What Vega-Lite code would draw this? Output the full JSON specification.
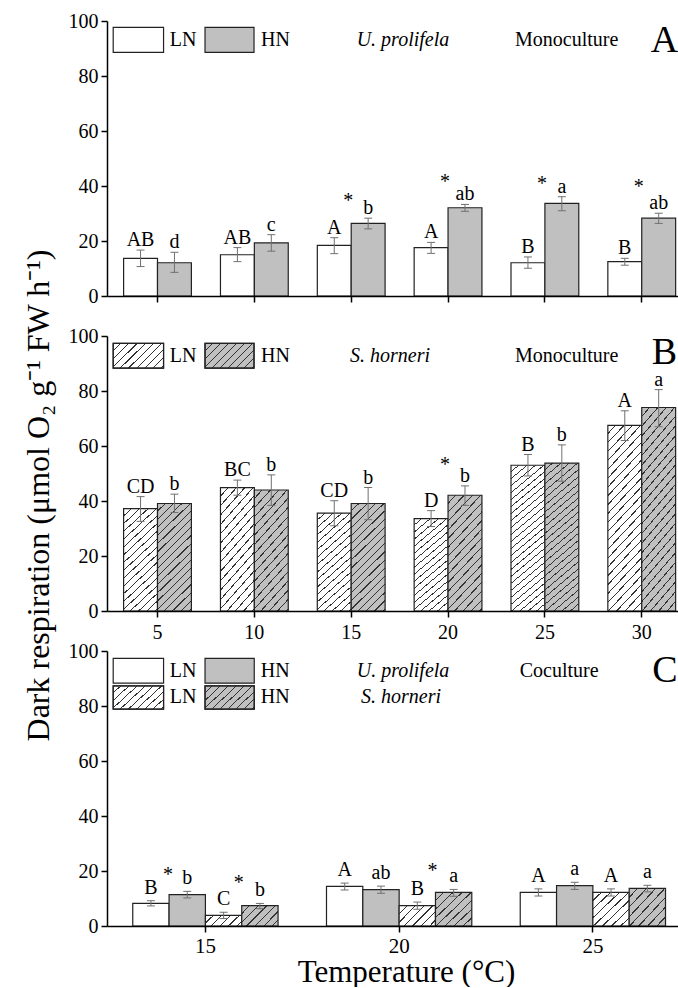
{
  "$schema": "https://vega.github.io/schema/vega-lite/v6.json",
  "padding": {"left": 21, "top": 11, "right": 0, "bottom": 0},
  "background": "white",
  "spacing": 40,
  "bounds": "flush",
  "datasets": {
    "A": [
      {"T": 5, "N": "LN", "v": 13.7, "lo": 10.7, "hi": 16.7, "lab": "AB"},
      {"T": 5, "N": "HN", "v": 12.1, "lo": 8.6, "hi": 15.9, "lab": "d"},
      {"T": 10, "N": "LN", "v": 15.0, "lo": 12.5, "hi": 17.6, "lab": "AB"},
      {"T": 10, "N": "HN", "v": 19.3, "lo": 16.3, "hi": 22.3, "lab": "c"},
      {"T": 15, "N": "LN", "v": 18.4, "lo": 15.4, "hi": 21.2, "lab": "A"},
      {"T": 15, "N": "HN", "v": 26.4, "lo": 24.4, "hi": 28.3, "lab": "b", "s": 32.5},
      {"T": 20, "N": "LN", "v": 17.6, "lo": 15.5, "hi": 19.5, "lab": "A"},
      {"T": 20, "N": "HN", "v": 32.1, "lo": 30.8, "hi": 33.3, "lab": "ab", "s": 39.1},
      {"T": 25, "N": "LN", "v": 12.1, "lo": 10.1, "hi": 14.2, "lab": "B"},
      {"T": 25, "N": "HN", "v": 33.7, "lo": 31.0, "hi": 36.1, "lab": "a", "s": 38.5},
      {"T": 30, "N": "LN", "v": 12.5, "lo": 11.2, "hi": 13.7, "lab": "B"},
      {"T": 30, "N": "HN", "v": 28.3, "lo": 26.4, "hi": 30.1, "lab": "ab", "s": 37.3}
    ],
    "B": [
      {"T": 5, "N": "LN", "v": 37.2, "lo": 32.6, "hi": 41.6, "lab": "CD"},
      {"T": 5, "N": "HN", "v": 39.1, "lo": 35.8, "hi": 42.5, "lab": "b"},
      {"T": 10, "N": "LN", "v": 44.9, "lo": 42.1, "hi": 47.6, "lab": "BC"},
      {"T": 10, "N": "HN", "v": 44.0, "lo": 38.4, "hi": 49.5, "lab": "b"},
      {"T": 15, "N": "LN", "v": 35.6, "lo": 31.0, "hi": 40.1, "lab": "CD"},
      {"T": 15, "N": "HN", "v": 39.1, "lo": 33.2, "hi": 44.9, "lab": "b"},
      {"T": 20, "N": "LN", "v": 33.6, "lo": 30.7, "hi": 36.5, "lab": "D"},
      {"T": 20, "N": "HN", "v": 42.1, "lo": 38.4, "hi": 45.5, "lab": "b", "s": 51.0},
      {"T": 25, "N": "LN", "v": 53.0, "lo": 49.1, "hi": 56.9, "lab": "B"},
      {"T": 25, "N": "HN", "v": 53.8, "lo": 47.2, "hi": 60.4, "lab": "b"},
      {"T": 30, "N": "LN", "v": 67.5, "lo": 62.0, "hi": 72.8, "lab": "A"},
      {"T": 30, "N": "HN", "v": 74.0, "lo": 67.0, "hi": 80.5, "lab": "a"}
    ],
    "C": [
      {"T": 15, "N": "LN", "sp": "U", "v": 8.2, "lo": 7.3, "hi": 9.2, "lab": "B"},
      {"T": 15, "N": "HN", "sp": "U", "v": 11.4, "lo": 10.2, "hi": 12.6, "lab": "b", "s": 16.3},
      {"T": 15, "N": "LN", "sp": "S", "v": 3.9, "lo": 2.7, "hi": 5.0, "lab": "C"},
      {"T": 15, "N": "HN", "sp": "S", "v": 7.4, "lo": 6.3, "hi": 8.2, "lab": "b", "s": 13.3},
      {"T": 20, "N": "LN", "sp": "U", "v": 14.4, "lo": 13.1, "hi": 15.6, "lab": "A"},
      {"T": 20, "N": "HN", "sp": "U", "v": 13.2, "lo": 11.9, "hi": 14.5, "lab": "ab"},
      {"T": 20, "N": "LN", "sp": "S", "v": 7.4, "lo": 6.1, "hi": 8.7, "lab": "B"},
      {"T": 20, "N": "HN", "sp": "S", "v": 12.2, "lo": 10.8, "hi": 13.3, "lab": "a", "s": 17.8},
      {"T": 25, "N": "LN", "sp": "U", "v": 12.2, "lo": 10.9, "hi": 13.5, "lab": "A"},
      {"T": 25, "N": "HN", "sp": "U", "v": 14.7, "lo": 13.3, "hi": 15.9, "lab": "a"},
      {"T": 25, "N": "LN", "sp": "S", "v": 12.2, "lo": 10.9, "hi": 13.5, "lab": "A"},
      {"T": 25, "N": "HN", "sp": "S", "v": 13.7, "lo": 12.4, "hi": 14.8, "lab": "a"}
    ],
    "annA": [
      {"k": "box", "N": "LN", "h": false, "x": 2.72, "x2": 5.32, "y": 97.7, "y2": 88.6},
      {"k": "box", "N": "HN", "h": false, "x": 7.46, "x2": 9.99, "y": 97.7, "y2": 88.6},
      {"k": "key", "t": "LN", "x": 5.64, "y": 93.0},
      {"k": "key", "t": "HN", "x": 10.35, "y": 93.0},
      {"k": "sp", "t": "U. prolifela", "x": 17.68, "y": 93.0},
      {"k": "cult", "t": "Monoculture", "x": 26.13, "y": 93.0},
      {"k": "panel", "t": "A", "x": 31.18, "y": 92.9}
    ],
    "annB": [
      {"k": "box", "N": "LN", "h": true, "x": 2.72, "x2": 5.32, "y": 97.3, "y2": 88.3},
      {"k": "box", "N": "HN", "h": true, "x": 7.46, "x2": 9.99, "y": 97.3, "y2": 88.3},
      {"k": "key", "t": "LN", "x": 5.64, "y": 92.8},
      {"k": "key", "t": "HN", "x": 10.35, "y": 92.8},
      {"k": "sp", "t": "S. horneri", "x": 17.01, "y": 92.8},
      {"k": "cult", "t": "Monoculture", "x": 26.13, "y": 92.8},
      {"k": "panel", "t": "B", "x": 31.18, "y": 93.8}
    ],
    "annC": [
      {"k": "box", "N": "LN", "h": false, "x": 12.62, "x2": 13.92, "y": 97.3, "y2": 88.3},
      {"k": "box", "N": "HN", "h": false, "x": 14.99, "x2": 16.26, "y": 97.3, "y2": 88.3},
      {"k": "box", "N": "LN", "h": true, "x": 12.62, "x2": 13.92, "y": 87.3, "y2": 78.9},
      {"k": "box", "N": "HN", "h": true, "x": 14.99, "x2": 16.26, "y": 87.3, "y2": 78.9},
      {"k": "key", "t": "LN", "x": 14.08, "y": 92.8},
      {"k": "key", "t": "HN", "x": 16.43, "y": 92.8},
      {"k": "key", "t": "LN", "x": 14.08, "y": 83.1},
      {"k": "key", "t": "HN", "x": 16.43, "y": 83.1},
      {"k": "sp", "t": "U. prolifela", "x": 20.10, "y": 92.8},
      {"k": "sp", "t": "S. horneri", "x": 20.05, "y": 83.1},
      {"k": "cult", "t": "Coculture", "x": 24.13, "y": 92.8},
      {"k": "panel", "t": "C", "x": 26.86, "y": 92.6}
    ]
  },
  "vconcat": [
    {
      "width": 575, "height": 275,
      "resolve": {"scale": {"x": "independent"}},
      "layer": [
        {
          "width": 575, "height": 275,
          "data": {"name": "A"},
          "layer": [
            {"transform": [{"filter": "datum.N === 'LN'"}],
             "mark": {"type": "rect", "fill": "#ffffff", "stroke": "#222", "strokeWidth": 1.2},
             "encoding": {
               "x": {"field": "T", "type": "ordinal", "bandPosition": 0, "scale": {"paddingInner": 0.3, "paddingOuter": 0.1186, "align": 0.723}, "axis": {"labels": false, "title": null, "tickSize": 6}},
               "x2": {"field": "T", "bandPosition": 0.5},
               "y": {"field": "v", "type": "quantitative", "scale": {"domain": [0, 100], "nice": false}, "axis": {"values": [0,10,20,30,40,50,60,70,80,90,100], "labelExpr": "datum.value % 20 === 0 ? datum.label : ''", "tickSize": 6, "labelPadding": 3, "title": null}},
               "y2": {"datum": 0}}},
            {"transform": [{"filter": "datum.N === 'HN'"}],
             "mark": {"type": "rect", "fill": "#c0c0c0", "stroke": "#222", "strokeWidth": 1.2},
             "encoding": {"x": {"field": "T", "type": "ordinal", "bandPosition": 1}, "x2": {"field": "T", "bandPosition": 0.5}, "y": {"field": "v", "type": "quantitative"}, "y2": {"datum": 0}}},
            {"transform": [{"filter": "datum.N === 'LN'"}], "layer": [
              {"mark": {"type": "rule", "color": "#707070", "strokeWidth": 1}, "encoding": {"x": {"field": "T", "type": "ordinal", "bandPosition": 0.25}, "y": {"field": "lo", "type": "quantitative"}, "y2": {"field": "hi"}}},
              {"mark": {"type": "rule", "color": "#707070", "strokeWidth": 1}, "encoding": {"x": {"field": "T", "type": "ordinal", "bandPosition": 0.191}, "x2": {"field": "T", "bandPosition": 0.309}, "y": {"field": "lo", "type": "quantitative"}}},
              {"mark": {"type": "rule", "color": "#707070", "strokeWidth": 1}, "encoding": {"x": {"field": "T", "type": "ordinal", "bandPosition": 0.191}, "x2": {"field": "T", "bandPosition": 0.309}, "y": {"field": "hi", "type": "quantitative"}}},
              {"mark": {"type": "text", "baseline": "alphabetic", "dy": -4, "fontSize": 20, "fill": "#000"}, "encoding": {"x": {"field": "T", "type": "ordinal", "bandPosition": 0.25}, "y": {"field": "hi", "type": "quantitative"}, "text": {"field": "lab"}}}
            ]},
            {"transform": [{"filter": "datum.N === 'HN'"}], "layer": [
              {"mark": {"type": "rule", "color": "#707070", "strokeWidth": 1}, "encoding": {"x": {"field": "T", "type": "ordinal", "bandPosition": 0.75}, "y": {"field": "lo", "type": "quantitative"}, "y2": {"field": "hi"}}},
              {"mark": {"type": "rule", "color": "#707070", "strokeWidth": 1}, "encoding": {"x": {"field": "T", "type": "ordinal", "bandPosition": 0.691}, "x2": {"field": "T", "bandPosition": 0.809}, "y": {"field": "lo", "type": "quantitative"}}},
              {"mark": {"type": "rule", "color": "#707070", "strokeWidth": 1}, "encoding": {"x": {"field": "T", "type": "ordinal", "bandPosition": 0.691}, "x2": {"field": "T", "bandPosition": 0.809}, "y": {"field": "hi", "type": "quantitative"}}},
              {"mark": {"type": "text", "baseline": "alphabetic", "dy": -4, "fontSize": 20, "fill": "#000"}, "encoding": {"x": {"field": "T", "type": "ordinal", "bandPosition": 0.75}, "y": {"field": "hi", "type": "quantitative"}, "text": {"field": "lab"}}},
              {"transform": [{"filter": "isValid(datum.s)"}], "mark": {"type": "text", "baseline": "alphabetic", "dx": -3, "fontSize": 20, "fill": "#000"}, "encoding": {"x": {"field": "T", "type": "ordinal", "bandPosition": 0.5}, "y": {"field": "s", "type": "quantitative"}, "text": {"value": "*"}}}
            ]}
          ]
        },
        {
          "width": 575, "height": 275,
          "data": {"name": "annA"},
          "encoding": {"x": {"field": "x", "type": "quantitative", "scale": {"domain": [2.4, 32.085], "nice": false, "zero": false}, "axis": null}},
          "layer": [
            {"transform": [{"filter": "datum.k === 'box'"}],
             "mark": {"type": "rect", "stroke": "#222", "strokeWidth": 1.2},
             "encoding": {"x2": {"field": "x2"}, "y": {"field": "y", "type": "quantitative"}, "y2": {"field": "y2"},
               "fill": {"field": "N", "type": "nominal", "scale": {"domain": ["LN", "HN"], "range": ["#ffffff", "#c0c0c0"]}, "legend": null}}},
            {"transform": [{"filter": "datum.k === 'key'"}],
             "mark": {"type": "text", "align": "left", "baseline": "middle", "fontSize": 20, "fill": "#000"},
             "encoding": {"y": {"field": "y", "type": "quantitative"}, "text": {"field": "t"}}},
            {"transform": [{"filter": "datum.k === 'sp'"}],
             "mark": {"type": "text", "align": "center", "baseline": "middle", "fontSize": 20, "fontStyle": "italic", "fill": "#000"},
             "encoding": {"y": {"field": "y", "type": "quantitative"}, "text": {"field": "t"}}},
            {"transform": [{"filter": "datum.k === 'cult'"}],
             "mark": {"type": "text", "align": "center", "baseline": "middle", "fontSize": 20, "fill": "#000"},
             "encoding": {"y": {"field": "y", "type": "quantitative"}, "text": {"field": "t"}}},
            {"transform": [{"filter": "datum.k === 'panel'"}],
             "mark": {"type": "text", "align": "center", "baseline": "middle", "fontSize": 38, "fill": "#000"},
             "encoding": {"y": {"field": "y", "type": "quantitative"}, "text": {"field": "t"}}}
          ]
        }
      ]
    },
    {
      "width": 575, "height": 275,
      "resolve": {"scale": {"x": "independent"}},
      "layer": [
        {
          "width": 575, "height": 275,
          "data": {"name": "B"},
          "layer": [
            {"transform": [{"filter": "datum.N === 'LN'"}],
             "mark": {"type": "rect", "stroke": "#222", "strokeWidth": 1.2},
             "encoding": {
               "x": {"field": "T", "type": "ordinal", "bandPosition": 0, "scale": {"paddingInner": 0.3, "paddingOuter": 0.1186, "align": 0.723}, "axis": {"title": null, "tickSize": 6, "labelPadding": 5, "labelAngle": 0}},
               "x2": {"field": "T", "bandPosition": 0.5},
               "y": {"field": "v", "type": "quantitative", "scale": {"domain": [0, 100], "nice": false}, "axis": {"values": [0,10,20,30,40,50,60,70,80,90,100], "labelExpr": "datum.value % 20 === 0 ? datum.label : ''", "tickSize": 6, "labelPadding": 3,
                 "title": "Dark respiration (μmol O₂ g⁻¹ FW h⁻¹)", "titleFontSize": 32, "titleX": -59, "titleY": 159, "titleAngle": 270, "titleBaseline": "alphabetic", "titleAlign": "center"}},
               "y2": {"datum": 0},
               "fill": {"condition": {"test": "datum.v > 50", "value": {"gradient": "linear", "x1": 0, "y1": 0, "x2": 0.233, "y2": 1.2, "stops": [
                 {"offset": 0, "color": "#fff"}, {"offset": 0.0327, "color": "#fff"}, {"offset": 0.0327, "color": "#333"}, {"offset": 0.0385, "color": "#333"},
                 {"offset": 0.0385, "color": "#fff"}, {"offset": 0.0712, "color": "#fff"}, {"offset": 0.0712, "color": "#333"}, {"offset": 0.0769, "color": "#333"},
                 {"offset": 0.0769, "color": "#fff"}, {"offset": 0.1096, "color": "#fff"}, {"offset": 0.1096, "color": "#333"}, {"offset": 0.1154, "color": "#333"},
                 {"offset": 0.1154, "color": "#fff"}, {"offset": 0.1481, "color": "#fff"}, {"offset": 0.1481, "color": "#333"}, {"offset": 0.1538, "color": "#333"},
                 {"offset": 0.1538, "color": "#fff"}, {"offset": 0.1865, "color": "#fff"}, {"offset": 0.1865, "color": "#333"}, {"offset": 0.1923, "color": "#333"},
                 {"offset": 0.1923, "color": "#fff"}, {"offset": 0.225, "color": "#fff"}, {"offset": 0.225, "color": "#333"}, {"offset": 0.2308, "color": "#333"},
                 {"offset": 0.2308, "color": "#fff"}, {"offset": 0.2635, "color": "#fff"}, {"offset": 0.2635, "color": "#333"}, {"offset": 0.2692, "color": "#333"},
                 {"offset": 0.2692, "color": "#fff"}, {"offset": 0.3019, "color": "#fff"}, {"offset": 0.3019, "color": "#333"}, {"offset": 0.3077, "color": "#333"},
                 {"offset": 0.3077, "color": "#fff"}, {"offset": 0.3404, "color": "#fff"}, {"offset": 0.3404, "color": "#333"}, {"offset": 0.3462, "color": "#333"},
                 {"offset": 0.3462, "color": "#fff"}, {"offset": 0.3788, "color": "#fff"}, {"offset": 0.3788, "color": "#333"}, {"offset": 0.3846, "color": "#333"},
                 {"offset": 0.3846, "color": "#fff"}, {"offset": 0.4173, "color": "#fff"}, {"offset": 0.4173, "color": "#333"}, {"offset": 0.4231, "color": "#333"},
                 {"offset": 0.4231, "color": "#fff"}, {"offset": 0.4558, "color": "#fff"}, {"offset": 0.4558, "color": "#333"}, {"offset": 0.4615, "color": "#333"},
                 {"offset": 0.4615, "color": "#fff"}, {"offset": 0.4942, "color": "#fff"}, {"offset": 0.4942, "color": "#333"}, {"offset": 0.5, "color": "#333"},
                 {"offset": 0.5, "color": "#fff"}, {"offset": 0.5327, "color": "#fff"}, {"offset": 0.5327, "color": "#333"}, {"offset": 0.5385, "color": "#333"},
                 {"offset": 0.5385, "color": "#fff"}, {"offset": 0.5712, "color": "#fff"}, {"offset": 0.5712, "color": "#333"}, {"offset": 0.5769, "color": "#333"},
                 {"offset": 0.5769, "color": "#fff"}, {"offset": 0.6096, "color": "#fff"}, {"offset": 0.6096, "color": "#333"}, {"offset": 0.6154, "color": "#333"},
                 {"offset": 0.6154, "color": "#fff"}, {"offset": 0.6481, "color": "#fff"}, {"offset": 0.6481, "color": "#333"}, {"offset": 0.6538, "color": "#333"},
                 {"offset": 0.6538, "color": "#fff"}, {"offset": 0.6865, "color": "#fff"}, {"offset": 0.6865, "color": "#333"}, {"offset": 0.6923, "color": "#333"},
                 {"offset": 0.6923, "color": "#fff"}, {"offset": 0.725, "color": "#fff"}, {"offset": 0.725, "color": "#333"}, {"offset": 0.7308, "color": "#333"},
                 {"offset": 0.7308, "color": "#fff"}, {"offset": 0.7635, "color": "#fff"}, {"offset": 0.7635, "color": "#333"}, {"offset": 0.7692, "color": "#333"},
                 {"offset": 0.7692, "color": "#fff"}, {"offset": 0.8019, "color": "#fff"}, {"offset": 0.8019, "color": "#333"}, {"offset": 0.8077, "color": "#333"},
                 {"offset": 0.8077, "color": "#fff"}, {"offset": 0.8404, "color": "#fff"}, {"offset": 0.8404, "color": "#333"}, {"offset": 0.8462, "color": "#333"},
                 {"offset": 0.8462, "color": "#fff"}, {"offset": 0.8788, "color": "#fff"}, {"offset": 0.8788, "color": "#333"}, {"offset": 0.8846, "color": "#333"},
                 {"offset": 0.8846, "color": "#fff"}, {"offset": 0.9173, "color": "#fff"}, {"offset": 0.9173, "color": "#333"}, {"offset": 0.9231, "color": "#333"},
                 {"offset": 0.9231, "color": "#fff"}, {"offset": 0.9558, "color": "#fff"}, {"offset": 0.9558, "color": "#333"}, {"offset": 0.9615, "color": "#333"},
                 {"offset": 0.9615, "color": "#fff"}, {"offset": 0.9942, "color": "#fff"}, {"offset": 0.9942, "color": "#333"}, {"offset": 1, "color": "#333"}
               ]}},
               "value": {"gradient": "linear", "x1": 0, "y1": 0, "x2": 0.386, "y2": 1.25, "stops": [
                 {"offset": 0, "color": "#fff"}, {"offset": 0.0472, "color": "#fff"}, {"offset": 0.0472, "color": "#333"}, {"offset": 0.0556, "color": "#333"},
                 {"offset": 0.0556, "color": "#fff"}, {"offset": 0.1028, "color": "#fff"}, {"offset": 0.1028, "color": "#333"}, {"offset": 0.1111, "color": "#333"},
                 {"offset": 0.1111, "color": "#fff"}, {"offset": 0.1583, "color": "#fff"}, {"offset": 0.1583, "color": "#333"}, {"offset": 0.1667, "color": "#333"},
                 {"offset": 0.1667, "color": "#fff"}, {"offset": 0.2139, "color": "#fff"}, {"offset": 0.2139, "color": "#333"}, {"offset": 0.2222, "color": "#333"},
                 {"offset": 0.2222, "color": "#fff"}, {"offset": 0.2694, "color": "#fff"}, {"offset": 0.2694, "color": "#333"}, {"offset": 0.2778, "color": "#333"},
                 {"offset": 0.2778, "color": "#fff"}, {"offset": 0.325, "color": "#fff"}, {"offset": 0.325, "color": "#333"}, {"offset": 0.3333, "color": "#333"},
                 {"offset": 0.3333, "color": "#fff"}, {"offset": 0.3806, "color": "#fff"}, {"offset": 0.3806, "color": "#333"}, {"offset": 0.3889, "color": "#333"},
                 {"offset": 0.3889, "color": "#fff"}, {"offset": 0.4361, "color": "#fff"}, {"offset": 0.4361, "color": "#333"}, {"offset": 0.4444, "color": "#333"},
                 {"offset": 0.4444, "color": "#fff"}, {"offset": 0.4917, "color": "#fff"}, {"offset": 0.4917, "color": "#333"}, {"offset": 0.5, "color": "#333"},
                 {"offset": 0.5, "color": "#fff"}, {"offset": 0.5472, "color": "#fff"}, {"offset": 0.5472, "color": "#333"}, {"offset": 0.5556, "color": "#333"},
                 {"offset": 0.5556, "color": "#fff"}, {"offset": 0.6028, "color": "#fff"}, {"offset": 0.6028, "color": "#333"}, {"offset": 0.6111, "color": "#333"},
                 {"offset": 0.6111, "color": "#fff"}, {"offset": 0.6583, "color": "#fff"}, {"offset": 0.6583, "color": "#333"}, {"offset": 0.6667, "color": "#333"},
                 {"offset": 0.6667, "color": "#fff"}, {"offset": 0.7139, "color": "#fff"}, {"offset": 0.7139, "color": "#333"}, {"offset": 0.7222, "color": "#333"},
                 {"offset": 0.7222, "color": "#fff"}, {"offset": 0.7694, "color": "#fff"}, {"offset": 0.7694, "color": "#333"}, {"offset": 0.7778, "color": "#333"},
                 {"offset": 0.7778, "color": "#fff"}, {"offset": 0.825, "color": "#fff"}, {"offset": 0.825, "color": "#333"}, {"offset": 0.8333, "color": "#333"},
                 {"offset": 0.8333, "color": "#fff"}, {"offset": 0.8806, "color": "#fff"}, {"offset": 0.8806, "color": "#333"}, {"offset": 0.8889, "color": "#333"},
                 {"offset": 0.8889, "color": "#fff"}, {"offset": 0.9361, "color": "#fff"}, {"offset": 0.9361, "color": "#333"}, {"offset": 0.9444, "color": "#333"},
                 {"offset": 0.9444, "color": "#fff"}, {"offset": 0.9917, "color": "#fff"}, {"offset": 0.9917, "color": "#333"}, {"offset": 1, "color": "#333"}
               ]}}}},
            {"transform": [{"filter": "datum.N === 'HN'"}],
             "mark": {"type": "rect", "stroke": "#222", "strokeWidth": 1.2},
             "encoding": {
               "x": {"field": "T", "type": "ordinal", "bandPosition": 1}, "x2": {"field": "T", "bandPosition": 0.5},
               "y": {"field": "v", "type": "quantitative"}, "y2": {"datum": 0},
               "fill": {"condition": {"test": "datum.v > 50", "value": {"gradient": "linear", "x1": 0, "y1": 0, "x2": 0.233, "y2": 1.2, "stops": [
                 {"offset": 0, "color": "#c0c0c0"}, {"offset": 0.0327, "color": "#c0c0c0"}, {"offset": 0.0327, "color": "#333"}, {"offset": 0.0385, "color": "#333"},
                 {"offset": 0.0385, "color": "#c0c0c0"}, {"offset": 0.0712, "color": "#c0c0c0"}, {"offset": 0.0712, "color": "#333"}, {"offset": 0.0769, "color": "#333"},
                 {"offset": 0.0769, "color": "#c0c0c0"}, {"offset": 0.1096, "color": "#c0c0c0"}, {"offset": 0.1096, "color": "#333"}, {"offset": 0.1154, "color": "#333"},
                 {"offset": 0.1154, "color": "#c0c0c0"}, {"offset": 0.1481, "color": "#c0c0c0"}, {"offset": 0.1481, "color": "#333"}, {"offset": 0.1538, "color": "#333"},
                 {"offset": 0.1538, "color": "#c0c0c0"}, {"offset": 0.1865, "color": "#c0c0c0"}, {"offset": 0.1865, "color": "#333"}, {"offset": 0.1923, "color": "#333"},
                 {"offset": 0.1923, "color": "#c0c0c0"}, {"offset": 0.225, "color": "#c0c0c0"}, {"offset": 0.225, "color": "#333"}, {"offset": 0.2308, "color": "#333"},
                 {"offset": 0.2308, "color": "#c0c0c0"}, {"offset": 0.2635, "color": "#c0c0c0"}, {"offset": 0.2635, "color": "#333"}, {"offset": 0.2692, "color": "#333"},
                 {"offset": 0.2692, "color": "#c0c0c0"}, {"offset": 0.3019, "color": "#c0c0c0"}, {"offset": 0.3019, "color": "#333"}, {"offset": 0.3077, "color": "#333"},
                 {"offset": 0.3077, "color": "#c0c0c0"}, {"offset": 0.3404, "color": "#c0c0c0"}, {"offset": 0.3404, "color": "#333"}, {"offset": 0.3462, "color": "#333"},
                 {"offset": 0.3462, "color": "#c0c0c0"}, {"offset": 0.3788, "color": "#c0c0c0"}, {"offset": 0.3788, "color": "#333"}, {"offset": 0.3846, "color": "#333"},
                 {"offset": 0.3846, "color": "#c0c0c0"}, {"offset": 0.4173, "color": "#c0c0c0"}, {"offset": 0.4173, "color": "#333"}, {"offset": 0.4231, "color": "#333"},
                 {"offset": 0.4231, "color": "#c0c0c0"}, {"offset": 0.4558, "color": "#c0c0c0"}, {"offset": 0.4558, "color": "#333"}, {"offset": 0.4615, "color": "#333"},
                 {"offset": 0.4615, "color": "#c0c0c0"}, {"offset": 0.4942, "color": "#c0c0c0"}, {"offset": 0.4942, "color": "#333"}, {"offset": 0.5, "color": "#333"},
                 {"offset": 0.5, "color": "#c0c0c0"}, {"offset": 0.5327, "color": "#c0c0c0"}, {"offset": 0.5327, "color": "#333"}, {"offset": 0.5385, "color": "#333"},
                 {"offset": 0.5385, "color": "#c0c0c0"}, {"offset": 0.5712, "color": "#c0c0c0"}, {"offset": 0.5712, "color": "#333"}, {"offset": 0.5769, "color": "#333"},
                 {"offset": 0.5769, "color": "#c0c0c0"}, {"offset": 0.6096, "color": "#c0c0c0"}, {"offset": 0.6096, "color": "#333"}, {"offset": 0.6154, "color": "#333"},
                 {"offset": 0.6154, "color": "#c0c0c0"}, {"offset": 0.6481, "color": "#c0c0c0"}, {"offset": 0.6481, "color": "#333"}, {"offset": 0.6538, "color": "#333"},
                 {"offset": 0.6538, "color": "#c0c0c0"}, {"offset": 0.6865, "color": "#c0c0c0"}, {"offset": 0.6865, "color": "#333"}, {"offset": 0.6923, "color": "#333"},
                 {"offset": 0.6923, "color": "#c0c0c0"}, {"offset": 0.725, "color": "#c0c0c0"}, {"offset": 0.725, "color": "#333"}, {"offset": 0.7308, "color": "#333"},
                 {"offset": 0.7308, "color": "#c0c0c0"}, {"offset": 0.7635, "color": "#c0c0c0"}, {"offset": 0.7635, "color": "#333"}, {"offset": 0.7692, "color": "#333"},
                 {"offset": 0.7692, "color": "#c0c0c0"}, {"offset": 0.8019, "color": "#c0c0c0"}, {"offset": 0.8019, "color": "#333"}, {"offset": 0.8077, "color": "#333"},
                 {"offset": 0.8077, "color": "#c0c0c0"}, {"offset": 0.8404, "color": "#c0c0c0"}, {"offset": 0.8404, "color": "#333"}, {"offset": 0.8462, "color": "#333"},
                 {"offset": 0.8462, "color": "#c0c0c0"}, {"offset": 0.8788, "color": "#c0c0c0"}, {"offset": 0.8788, "color": "#333"}, {"offset": 0.8846, "color": "#333"},
                 {"offset": 0.8846, "color": "#c0c0c0"}, {"offset": 0.9173, "color": "#c0c0c0"}, {"offset": 0.9173, "color": "#333"}, {"offset": 0.9231, "color": "#333"},
                 {"offset": 0.9231, "color": "#c0c0c0"}, {"offset": 0.9558, "color": "#c0c0c0"}, {"offset": 0.9558, "color": "#333"}, {"offset": 0.9615, "color": "#333"},
                 {"offset": 0.9615, "color": "#c0c0c0"}, {"offset": 0.9942, "color": "#c0c0c0"}, {"offset": 0.9942, "color": "#333"}, {"offset": 1, "color": "#333"}
               ]}},
               "value": {"gradient": "linear", "x1": 0, "y1": 0, "x2": 0.386, "y2": 1.25, "stops": [
                 {"offset": 0, "color": "#c0c0c0"}, {"offset": 0.0472, "color": "#c0c0c0"}, {"offset": 0.0472, "color": "#333"}, {"offset": 0.0556, "color": "#333"},
                 {"offset": 0.0556, "color": "#c0c0c0"}, {"offset": 0.1028, "color": "#c0c0c0"}, {"offset": 0.1028, "color": "#333"}, {"offset": 0.1111, "color": "#333"},
                 {"offset": 0.1111, "color": "#c0c0c0"}, {"offset": 0.1583, "color": "#c0c0c0"}, {"offset": 0.1583, "color": "#333"}, {"offset": 0.1667, "color": "#333"},
                 {"offset": 0.1667, "color": "#c0c0c0"}, {"offset": 0.2139, "color": "#c0c0c0"}, {"offset": 0.2139, "color": "#333"}, {"offset": 0.2222, "color": "#333"},
                 {"offset": 0.2222, "color": "#c0c0c0"}, {"offset": 0.2694, "color": "#c0c0c0"}, {"offset": 0.2694, "color": "#333"}, {"offset": 0.2778, "color": "#333"},
                 {"offset": 0.2778, "color": "#c0c0c0"}, {"offset": 0.325, "color": "#c0c0c0"}, {"offset": 0.325, "color": "#333"}, {"offset": 0.3333, "color": "#333"},
                 {"offset": 0.3333, "color": "#c0c0c0"}, {"offset": 0.3806, "color": "#c0c0c0"}, {"offset": 0.3806, "color": "#333"}, {"offset": 0.3889, "color": "#333"},
                 {"offset": 0.3889, "color": "#c0c0c0"}, {"offset": 0.4361, "color": "#c0c0c0"}, {"offset": 0.4361, "color": "#333"}, {"offset": 0.4444, "color": "#333"},
                 {"offset": 0.4444, "color": "#c0c0c0"}, {"offset": 0.4917, "color": "#c0c0c0"}, {"offset": 0.4917, "color": "#333"}, {"offset": 0.5, "color": "#333"},
                 {"offset": 0.5, "color": "#c0c0c0"}, {"offset": 0.5472, "color": "#c0c0c0"}, {"offset": 0.5472, "color": "#333"}, {"offset": 0.5556, "color": "#333"},
                 {"offset": 0.5556, "color": "#c0c0c0"}, {"offset": 0.6028, "color": "#c0c0c0"}, {"offset": 0.6028, "color": "#333"}, {"offset": 0.6111, "color": "#333"},
                 {"offset": 0.6111, "color": "#c0c0c0"}, {"offset": 0.6583, "color": "#c0c0c0"}, {"offset": 0.6583, "color": "#333"}, {"offset": 0.6667, "color": "#333"},
                 {"offset": 0.6667, "color": "#c0c0c0"}, {"offset": 0.7139, "color": "#c0c0c0"}, {"offset": 0.7139, "color": "#333"}, {"offset": 0.7222, "color": "#333"},
                 {"offset": 0.7222, "color": "#c0c0c0"}, {"offset": 0.7694, "color": "#c0c0c0"}, {"offset": 0.7694, "color": "#333"}, {"offset": 0.7778, "color": "#333"},
                 {"offset": 0.7778, "color": "#c0c0c0"}, {"offset": 0.825, "color": "#c0c0c0"}, {"offset": 0.825, "color": "#333"}, {"offset": 0.8333, "color": "#333"},
                 {"offset": 0.8333, "color": "#c0c0c0"}, {"offset": 0.8806, "color": "#c0c0c0"}, {"offset": 0.8806, "color": "#333"}, {"offset": 0.8889, "color": "#333"},
                 {"offset": 0.8889, "color": "#c0c0c0"}, {"offset": 0.9361, "color": "#c0c0c0"}, {"offset": 0.9361, "color": "#333"}, {"offset": 0.9444, "color": "#333"},
                 {"offset": 0.9444, "color": "#c0c0c0"}, {"offset": 0.9917, "color": "#c0c0c0"}, {"offset": 0.9917, "color": "#333"}, {"offset": 1, "color": "#333"}
               ]}}}},
            {"transform": [{"filter": "datum.N === 'LN'"}], "layer": [
              {"mark": {"type": "rule", "color": "#707070", "strokeWidth": 1}, "encoding": {"x": {"field": "T", "type": "ordinal", "bandPosition": 0.25}, "y": {"field": "lo", "type": "quantitative"}, "y2": {"field": "hi"}}},
              {"mark": {"type": "rule", "color": "#707070", "strokeWidth": 1}, "encoding": {"x": {"field": "T", "type": "ordinal", "bandPosition": 0.191}, "x2": {"field": "T", "bandPosition": 0.309}, "y": {"field": "lo", "type": "quantitative"}}},
              {"mark": {"type": "rule", "color": "#707070", "strokeWidth": 1}, "encoding": {"x": {"field": "T", "type": "ordinal", "bandPosition": 0.191}, "x2": {"field": "T", "bandPosition": 0.309}, "y": {"field": "hi", "type": "quantitative"}}},
              {"mark": {"type": "text", "baseline": "alphabetic", "dy": -4, "fontSize": 20, "fill": "#000"}, "encoding": {"x": {"field": "T", "type": "ordinal", "bandPosition": 0.25}, "y": {"field": "hi", "type": "quantitative"}, "text": {"field": "lab"}}}
            ]},
            {"transform": [{"filter": "datum.N === 'HN'"}], "layer": [
              {"mark": {"type": "rule", "color": "#707070", "strokeWidth": 1}, "encoding": {"x": {"field": "T", "type": "ordinal", "bandPosition": 0.75}, "y": {"field": "lo", "type": "quantitative"}, "y2": {"field": "hi"}}},
              {"mark": {"type": "rule", "color": "#707070", "strokeWidth": 1}, "encoding": {"x": {"field": "T", "type": "ordinal", "bandPosition": 0.691}, "x2": {"field": "T", "bandPosition": 0.809}, "y": {"field": "lo", "type": "quantitative"}}},
              {"mark": {"type": "rule", "color": "#707070", "strokeWidth": 1}, "encoding": {"x": {"field": "T", "type": "ordinal", "bandPosition": 0.691}, "x2": {"field": "T", "bandPosition": 0.809}, "y": {"field": "hi", "type": "quantitative"}}},
              {"mark": {"type": "text", "baseline": "alphabetic", "dy": -4, "fontSize": 20, "fill": "#000"}, "encoding": {"x": {"field": "T", "type": "ordinal", "bandPosition": 0.75}, "y": {"field": "hi", "type": "quantitative"}, "text": {"field": "lab"}}},
              {"transform": [{"filter": "isValid(datum.s)"}], "mark": {"type": "text", "baseline": "alphabetic", "dx": -3, "fontSize": 20, "fill": "#000"}, "encoding": {"x": {"field": "T", "type": "ordinal", "bandPosition": 0.5}, "y": {"field": "s", "type": "quantitative"}, "text": {"value": "*"}}}
            ]}
          ]
        },
        {
          "width": 575, "height": 275,
          "data": {"name": "annB"},
          "encoding": {"x": {"field": "x", "type": "quantitative", "scale": {"domain": [2.4, 32.085], "nice": false, "zero": false}, "axis": null}},
          "layer": [
            {"transform": [{"filter": "datum.k === 'box'"}],
             "mark": {"type": "rect", "stroke": "#222", "strokeWidth": 1.2},
             "encoding": {"x2": {"field": "x2"}, "y": {"field": "y", "type": "quantitative"}, "y2": {"field": "y2"},
               "fill": {"field": "N", "type": "nominal", "scale": {"domain": ["LN", "HN"], "range": ["#ffffff", "#c0c0c0"]}, "legend": null}}},
            {"transform": [{"filter": "datum.k === 'box' && datum.h"}],
             "mark": {"type": "rect", "stroke": "#222", "strokeWidth": 1.2, "fill": {"gradient": "linear", "x1": 0, "y1": 0, "x2": 1.3, "y2": 0.65, "stops": [
               {"offset": 0, "color": "transparent"}, {"offset": 0.085, "color": "transparent"}, {"offset": 0.085, "color": "#333"}, {"offset": 0.1, "color": "#333"},
               {"offset": 0.1, "color": "transparent"}, {"offset": 0.185, "color": "transparent"}, {"offset": 0.185, "color": "#333"}, {"offset": 0.2, "color": "#333"},
               {"offset": 0.2, "color": "transparent"}, {"offset": 0.285, "color": "transparent"}, {"offset": 0.285, "color": "#333"}, {"offset": 0.3, "color": "#333"},
               {"offset": 0.3, "color": "transparent"}, {"offset": 0.385, "color": "transparent"}, {"offset": 0.385, "color": "#333"}, {"offset": 0.4, "color": "#333"},
               {"offset": 0.4, "color": "transparent"}, {"offset": 0.485, "color": "transparent"}, {"offset": 0.485, "color": "#333"}, {"offset": 0.5, "color": "#333"},
               {"offset": 0.5, "color": "transparent"}, {"offset": 0.585, "color": "transparent"}, {"offset": 0.585, "color": "#333"}, {"offset": 0.6, "color": "#333"},
               {"offset": 0.6, "color": "transparent"}, {"offset": 0.685, "color": "transparent"}, {"offset": 0.685, "color": "#333"}, {"offset": 0.7, "color": "#333"},
               {"offset": 0.7, "color": "transparent"}, {"offset": 0.785, "color": "transparent"}, {"offset": 0.785, "color": "#333"}, {"offset": 0.8, "color": "#333"},
               {"offset": 0.8, "color": "transparent"}, {"offset": 0.885, "color": "transparent"}, {"offset": 0.885, "color": "#333"}, {"offset": 0.9, "color": "#333"},
               {"offset": 0.9, "color": "transparent"}, {"offset": 0.985, "color": "transparent"}, {"offset": 0.985, "color": "#333"}, {"offset": 1, "color": "#333"}
             ]}},
             "encoding": {"x2": {"field": "x2"}, "y": {"field": "y", "type": "quantitative"}, "y2": {"field": "y2"}}},
            {"transform": [{"filter": "datum.k === 'key'"}],
             "mark": {"type": "text", "align": "left", "baseline": "middle", "fontSize": 20, "fill": "#000"},
             "encoding": {"y": {"field": "y", "type": "quantitative"}, "text": {"field": "t"}}},
            {"transform": [{"filter": "datum.k === 'sp'"}],
             "mark": {"type": "text", "align": "center", "baseline": "middle", "fontSize": 20, "fontStyle": "italic", "fill": "#000"},
             "encoding": {"y": {"field": "y", "type": "quantitative"}, "text": {"field": "t"}}},
            {"transform": [{"filter": "datum.k === 'cult'"}],
             "mark": {"type": "text", "align": "center", "baseline": "middle", "fontSize": 20, "fill": "#000"},
             "encoding": {"y": {"field": "y", "type": "quantitative"}, "text": {"field": "t"}}},
            {"transform": [{"filter": "datum.k === 'panel'"}],
             "mark": {"type": "text", "align": "center", "baseline": "middle", "fontSize": 38, "fill": "#000"},
             "encoding": {"y": {"field": "y", "type": "quantitative"}, "text": {"field": "t"}}}
          ]
        }
      ]
    },
    {
      "width": 575, "height": 275,
      "resolve": {"scale": {"x": "independent"}},
      "layer": [
        {
          "width": 575, "height": 275,
          "data": {"name": "C"},
          "layer": [
            {"transform": [{"filter": "datum.sp === 'U' && datum.N === 'LN'"}],
             "mark": {"type": "rect", "fill": "#ffffff", "stroke": "#222", "strokeWidth": 1.2},
             "encoding": {
               "x": {"field": "T", "type": "ordinal", "bandPosition": 0, "scale": {"paddingInner": 0.25, "paddingOuter": 0.109, "align": 0.61}, "axis": {"tickSize": 6, "labelPadding": 3, "labelAngle": 0, "labelFontSize": 21,
                 "title": "Temperature (°C)", "titleFontSize": 31, "titleX": 299, "titleY": 55, "titleBaseline": "alphabetic", "titleAlign": "center", "titleAnchor": null}},
               "x2": {"field": "T", "bandPosition": 0.25},
               "y": {"field": "v", "type": "quantitative", "scale": {"domain": [0, 100], "nice": false}, "axis": {"values": [0,10,20,30,40,50,60,70,80,90,100], "labelExpr": "datum.value % 20 === 0 ? datum.label : ''", "tickSize": 6, "labelPadding": 3, "title": null}},
               "y2": {"datum": 0}}},
            {"transform": [{"filter": "datum.sp === 'U' && datum.N === 'HN'"}],
             "mark": {"type": "rect", "fill": "#c0c0c0", "stroke": "#222", "strokeWidth": 1.2},
             "encoding": {"x": {"field": "T", "type": "ordinal", "bandPosition": 0.25}, "x2": {"field": "T", "bandPosition": 0.5}, "y": {"field": "v", "type": "quantitative"}, "y2": {"datum": 0}}},
            {"transform": [{"filter": "datum.sp === 'S' && datum.N === 'LN'"}],
             "mark": {"type": "rect", "stroke": "#222", "strokeWidth": 1.2},
             "encoding": {"x": {"field": "T", "type": "ordinal", "bandPosition": 0.5}, "x2": {"field": "T", "bandPosition": 0.75}, "y": {"field": "v", "type": "quantitative"}, "y2": {"datum": 0},
               "fill": {"condition": [
                 {"test": "datum.v < 5", "value": {"gradient": "linear", "x1": 0, "y1": 0, "x2": 1.309, "y2": 0.4, "stops": [
                   {"offset": 0, "color": "#fff"}, {"offset": 0.1417, "color": "#fff"}, {"offset": 0.1417, "color": "#333"}, {"offset": 0.1667, "color": "#333"},
                   {"offset": 0.1667, "color": "#fff"}, {"offset": 0.3083, "color": "#fff"}, {"offset": 0.3083, "color": "#333"}, {"offset": 0.3333, "color": "#333"},
                   {"offset": 0.3333, "color": "#fff"}, {"offset": 0.475, "color": "#fff"}, {"offset": 0.475, "color": "#333"}, {"offset": 0.5, "color": "#333"},
                   {"offset": 0.5, "color": "#fff"}, {"offset": 0.6417, "color": "#fff"}, {"offset": 0.6417, "color": "#333"}, {"offset": 0.6667, "color": "#333"},
                   {"offset": 0.6667, "color": "#fff"}, {"offset": 0.8083, "color": "#fff"}, {"offset": 0.8083, "color": "#333"}, {"offset": 0.8333, "color": "#333"},
                   {"offset": 0.8333, "color": "#fff"}, {"offset": 0.975, "color": "#fff"}, {"offset": 0.975, "color": "#333"}, {"offset": 1, "color": "#333"}
                 ]}},
                 {"test": "datum.v < 10", "value": {"gradient": "linear", "x1": 0, "y1": 0, "x2": 1.26, "y2": 0.7, "stops": [
                   {"offset": 0, "color": "#fff"}, {"offset": 0.1214, "color": "#fff"}, {"offset": 0.1214, "color": "#333"}, {"offset": 0.1429, "color": "#333"},
                   {"offset": 0.1429, "color": "#fff"}, {"offset": 0.2643, "color": "#fff"}, {"offset": 0.2643, "color": "#333"}, {"offset": 0.2857, "color": "#333"},
                   {"offset": 0.2857, "color": "#fff"}, {"offset": 0.4071, "color": "#fff"}, {"offset": 0.4071, "color": "#333"}, {"offset": 0.4286, "color": "#333"},
                   {"offset": 0.4286, "color": "#fff"}, {"offset": 0.55, "color": "#fff"}, {"offset": 0.55, "color": "#333"}, {"offset": 0.5714, "color": "#333"},
                   {"offset": 0.5714, "color": "#fff"}, {"offset": 0.6929, "color": "#fff"}, {"offset": 0.6929, "color": "#333"}, {"offset": 0.7143, "color": "#333"},
                   {"offset": 0.7143, "color": "#fff"}, {"offset": 0.8357, "color": "#fff"}, {"offset": 0.8357, "color": "#333"}, {"offset": 0.8571, "color": "#333"},
                   {"offset": 0.8571, "color": "#fff"}, {"offset": 0.9786, "color": "#fff"}, {"offset": 0.9786, "color": "#333"}, {"offset": 1, "color": "#333"}
                 ]}}
               ],
               "value": {"gradient": "linear", "x1": 0, "y1": 0, "x2": 1.03, "y2": 1.0, "stops": [
                 {"offset": 0, "color": "#fff"}, {"offset": 0.1063, "color": "#fff"}, {"offset": 0.1063, "color": "#333"}, {"offset": 0.125, "color": "#333"},
                 {"offset": 0.125, "color": "#fff"}, {"offset": 0.2313, "color": "#fff"}, {"offset": 0.2313, "color": "#333"}, {"offset": 0.25, "color": "#333"},
                 {"offset": 0.25, "color": "#fff"}, {"offset": 0.3563, "color": "#fff"}, {"offset": 0.3563, "color": "#333"}, {"offset": 0.375, "color": "#333"},
                 {"offset": 0.375, "color": "#fff"}, {"offset": 0.4813, "color": "#fff"}, {"offset": 0.4813, "color": "#333"}, {"offset": 0.5, "color": "#333"},
                 {"offset": 0.5, "color": "#fff"}, {"offset": 0.6063, "color": "#fff"}, {"offset": 0.6063, "color": "#333"}, {"offset": 0.625, "color": "#333"},
                 {"offset": 0.625, "color": "#fff"}, {"offset": 0.7313, "color": "#fff"}, {"offset": 0.7313, "color": "#333"}, {"offset": 0.75, "color": "#333"},
                 {"offset": 0.75, "color": "#fff"}, {"offset": 0.8563, "color": "#fff"}, {"offset": 0.8563, "color": "#333"}, {"offset": 0.875, "color": "#333"},
                 {"offset": 0.875, "color": "#fff"}, {"offset": 0.9813, "color": "#fff"}, {"offset": 0.9813, "color": "#333"}, {"offset": 1, "color": "#333"}
               ]}}}},
            {"transform": [{"filter": "datum.sp === 'S' && datum.N === 'HN'"}],
             "mark": {"type": "rect", "stroke": "#222", "strokeWidth": 1.2},
             "encoding": {"x": {"field": "T", "type": "ordinal", "bandPosition": 1}, "x2": {"field": "T", "bandPosition": 0.75}, "y": {"field": "v", "type": "quantitative"}, "y2": {"datum": 0},
               "fill": {"condition": {"test": "datum.v < 10", "value": {"gradient": "linear", "x1": 0, "y1": 0, "x2": 1.26, "y2": 0.7, "stops": [
                   {"offset": 0, "color": "#c0c0c0"}, {"offset": 0.1214, "color": "#c0c0c0"}, {"offset": 0.1214, "color": "#333"}, {"offset": 0.1429, "color": "#333"},
                   {"offset": 0.1429, "color": "#c0c0c0"}, {"offset": 0.2643, "color": "#c0c0c0"}, {"offset": 0.2643, "color": "#333"}, {"offset": 0.2857, "color": "#333"},
                   {"offset": 0.2857, "color": "#c0c0c0"}, {"offset": 0.4071, "color": "#c0c0c0"}, {"offset": 0.4071, "color": "#333"}, {"offset": 0.4286, "color": "#333"},
                   {"offset": 0.4286, "color": "#c0c0c0"}, {"offset": 0.55, "color": "#c0c0c0"}, {"offset": 0.55, "color": "#333"}, {"offset": 0.5714, "color": "#333"},
                   {"offset": 0.5714, "color": "#c0c0c0"}, {"offset": 0.6929, "color": "#c0c0c0"}, {"offset": 0.6929, "color": "#333"}, {"offset": 0.7143, "color": "#333"},
                   {"offset": 0.7143, "color": "#c0c0c0"}, {"offset": 0.8357, "color": "#c0c0c0"}, {"offset": 0.8357, "color": "#333"}, {"offset": 0.8571, "color": "#333"},
                   {"offset": 0.8571, "color": "#c0c0c0"}, {"offset": 0.9786, "color": "#c0c0c0"}, {"offset": 0.9786, "color": "#333"}, {"offset": 1, "color": "#333"}
                 ]}},
               "value": {"gradient": "linear", "x1": 0, "y1": 0, "x2": 1.03, "y2": 1.0, "stops": [
                 {"offset": 0, "color": "#c0c0c0"}, {"offset": 0.1063, "color": "#c0c0c0"}, {"offset": 0.1063, "color": "#333"}, {"offset": 0.125, "color": "#333"},
                 {"offset": 0.125, "color": "#c0c0c0"}, {"offset": 0.2313, "color": "#c0c0c0"}, {"offset": 0.2313, "color": "#333"}, {"offset": 0.25, "color": "#333"},
                 {"offset": 0.25, "color": "#c0c0c0"}, {"offset": 0.3563, "color": "#c0c0c0"}, {"offset": 0.3563, "color": "#333"}, {"offset": 0.375, "color": "#333"},
                 {"offset": 0.375, "color": "#c0c0c0"}, {"offset": 0.4813, "color": "#c0c0c0"}, {"offset": 0.4813, "color": "#333"}, {"offset": 0.5, "color": "#333"},
                 {"offset": 0.5, "color": "#c0c0c0"}, {"offset": 0.6063, "color": "#c0c0c0"}, {"offset": 0.6063, "color": "#333"}, {"offset": 0.625, "color": "#333"},
                 {"offset": 0.625, "color": "#c0c0c0"}, {"offset": 0.7313, "color": "#c0c0c0"}, {"offset": 0.7313, "color": "#333"}, {"offset": 0.75, "color": "#333"},
                 {"offset": 0.75, "color": "#c0c0c0"}, {"offset": 0.8563, "color": "#c0c0c0"}, {"offset": 0.8563, "color": "#333"}, {"offset": 0.875, "color": "#333"},
                 {"offset": 0.875, "color": "#c0c0c0"}, {"offset": 0.9813, "color": "#c0c0c0"}, {"offset": 0.9813, "color": "#333"}, {"offset": 1, "color": "#333"}
               ]}}}},
            {"transform": [{"filter": "datum.sp === 'U' && datum.N === 'LN'"}], "layer": [
              {"mark": {"type": "rule", "color": "#707070", "strokeWidth": 1}, "encoding": {"x": {"field": "T", "type": "ordinal", "bandPosition": 0.125}, "y": {"field": "lo", "type": "quantitative"}, "y2": {"field": "hi"}}},
              {"mark": {"type": "rule", "color": "#707070", "strokeWidth": 1}, "encoding": {"x": {"field": "T", "type": "ordinal", "bandPosition": 0.0975}, "x2": {"field": "T", "bandPosition": 0.1525}, "y": {"field": "lo", "type": "quantitative"}}},
              {"mark": {"type": "rule", "color": "#707070", "strokeWidth": 1}, "encoding": {"x": {"field": "T", "type": "ordinal", "bandPosition": 0.0975}, "x2": {"field": "T", "bandPosition": 0.1525}, "y": {"field": "hi", "type": "quantitative"}}},
              {"mark": {"type": "text", "baseline": "alphabetic", "dy": -7, "fontSize": 20, "fill": "#000"}, "encoding": {"x": {"field": "T", "type": "ordinal", "bandPosition": 0.125}, "y": {"field": "hi", "type": "quantitative"}, "text": {"field": "lab"}}}
            ]},
            {"transform": [{"filter": "datum.sp === 'U' && datum.N === 'HN'"}], "layer": [
              {"mark": {"type": "rule", "color": "#707070", "strokeWidth": 1}, "encoding": {"x": {"field": "T", "type": "ordinal", "bandPosition": 0.375}, "y": {"field": "lo", "type": "quantitative"}, "y2": {"field": "hi"}}},
              {"mark": {"type": "rule", "color": "#707070", "strokeWidth": 1}, "encoding": {"x": {"field": "T", "type": "ordinal", "bandPosition": 0.3475}, "x2": {"field": "T", "bandPosition": 0.4025}, "y": {"field": "lo", "type": "quantitative"}}},
              {"mark": {"type": "rule", "color": "#707070", "strokeWidth": 1}, "encoding": {"x": {"field": "T", "type": "ordinal", "bandPosition": 0.3475}, "x2": {"field": "T", "bandPosition": 0.4025}, "y": {"field": "hi", "type": "quantitative"}}},
              {"mark": {"type": "text", "baseline": "alphabetic", "dy": -7, "fontSize": 20, "fill": "#000"}, "encoding": {"x": {"field": "T", "type": "ordinal", "bandPosition": 0.375}, "y": {"field": "hi", "type": "quantitative"}, "text": {"field": "lab"}}},
              {"transform": [{"filter": "isValid(datum.s)"}], "mark": {"type": "text", "baseline": "alphabetic", "dx": -1, "fontSize": 20, "fill": "#000"}, "encoding": {"x": {"field": "T", "type": "ordinal", "bandPosition": 0.25}, "y": {"field": "s", "type": "quantitative"}, "text": {"value": "*"}}}
            ]},
            {"transform": [{"filter": "datum.sp === 'S' && datum.N === 'LN'"}], "layer": [
              {"mark": {"type": "rule", "color": "#707070", "strokeWidth": 1}, "encoding": {"x": {"field": "T", "type": "ordinal", "bandPosition": 0.625}, "y": {"field": "lo", "type": "quantitative"}, "y2": {"field": "hi"}}},
              {"mark": {"type": "rule", "color": "#707070", "strokeWidth": 1}, "encoding": {"x": {"field": "T", "type": "ordinal", "bandPosition": 0.5975}, "x2": {"field": "T", "bandPosition": 0.6525}, "y": {"field": "lo", "type": "quantitative"}}},
              {"mark": {"type": "rule", "color": "#707070", "strokeWidth": 1}, "encoding": {"x": {"field": "T", "type": "ordinal", "bandPosition": 0.5975}, "x2": {"field": "T", "bandPosition": 0.6525}, "y": {"field": "hi", "type": "quantitative"}}},
              {"mark": {"type": "text", "baseline": "alphabetic", "dy": -7, "fontSize": 20, "fill": "#000"}, "encoding": {"x": {"field": "T", "type": "ordinal", "bandPosition": 0.625}, "y": {"field": "hi", "type": "quantitative"}, "text": {"field": "lab"}}}
            ]},
            {"transform": [{"filter": "datum.sp === 'S' && datum.N === 'HN'"}], "layer": [
              {"mark": {"type": "rule", "color": "#707070", "strokeWidth": 1}, "encoding": {"x": {"field": "T", "type": "ordinal", "bandPosition": 0.875}, "y": {"field": "lo", "type": "quantitative"}, "y2": {"field": "hi"}}},
              {"mark": {"type": "rule", "color": "#707070", "strokeWidth": 1}, "encoding": {"x": {"field": "T", "type": "ordinal", "bandPosition": 0.8475}, "x2": {"field": "T", "bandPosition": 0.9025}, "y": {"field": "lo", "type": "quantitative"}}},
              {"mark": {"type": "rule", "color": "#707070", "strokeWidth": 1}, "encoding": {"x": {"field": "T", "type": "ordinal", "bandPosition": 0.8475}, "x2": {"field": "T", "bandPosition": 0.9025}, "y": {"field": "hi", "type": "quantitative"}}},
              {"mark": {"type": "text", "baseline": "alphabetic", "dy": -7, "fontSize": 20, "fill": "#000"}, "encoding": {"x": {"field": "T", "type": "ordinal", "bandPosition": 0.875}, "y": {"field": "hi", "type": "quantitative"}, "text": {"field": "lab"}}},
              {"transform": [{"filter": "isValid(datum.s)"}], "mark": {"type": "text", "baseline": "alphabetic", "dx": -3, "fontSize": 20, "fill": "#000"}, "encoding": {"x": {"field": "T", "type": "ordinal", "bandPosition": 0.75}, "y": {"field": "s", "type": "quantitative"}, "text": {"value": "*"}}}
            ]}
          ]
        },
        {
          "width": 575, "height": 275,
          "data": {"name": "annC"},
          "encoding": {"x": {"field": "x", "type": "quantitative", "scale": {"domain": [12.46, 27.30], "nice": false, "zero": false}, "axis": null}},
          "layer": [
            {"transform": [{"filter": "datum.k === 'box'"}],
             "mark": {"type": "rect", "stroke": "#222", "strokeWidth": 1.2},
             "encoding": {"x2": {"field": "x2"}, "y": {"field": "y", "type": "quantitative"}, "y2": {"field": "y2"},
               "fill": {"field": "N", "type": "nominal", "scale": {"domain": ["LN", "HN"], "range": ["#ffffff", "#c0c0c0"]}, "legend": null}}},
            {"transform": [{"filter": "datum.k === 'box' && datum.h"}],
             "mark": {"type": "rect", "stroke": "#222", "strokeWidth": 1.2, "fill": {"gradient": "linear", "x1": 0, "y1": 0, "x2": 1.3, "y2": 0.65, "stops": [
               {"offset": 0, "color": "transparent"}, {"offset": 0.085, "color": "transparent"}, {"offset": 0.085, "color": "#333"}, {"offset": 0.1, "color": "#333"},
               {"offset": 0.1, "color": "transparent"}, {"offset": 0.185, "color": "transparent"}, {"offset": 0.185, "color": "#333"}, {"offset": 0.2, "color": "#333"},
               {"offset": 0.2, "color": "transparent"}, {"offset": 0.285, "color": "transparent"}, {"offset": 0.285, "color": "#333"}, {"offset": 0.3, "color": "#333"},
               {"offset": 0.3, "color": "transparent"}, {"offset": 0.385, "color": "transparent"}, {"offset": 0.385, "color": "#333"}, {"offset": 0.4, "color": "#333"},
               {"offset": 0.4, "color": "transparent"}, {"offset": 0.485, "color": "transparent"}, {"offset": 0.485, "color": "#333"}, {"offset": 0.5, "color": "#333"},
               {"offset": 0.5, "color": "transparent"}, {"offset": 0.585, "color": "transparent"}, {"offset": 0.585, "color": "#333"}, {"offset": 0.6, "color": "#333"},
               {"offset": 0.6, "color": "transparent"}, {"offset": 0.685, "color": "transparent"}, {"offset": 0.685, "color": "#333"}, {"offset": 0.7, "color": "#333"},
               {"offset": 0.7, "color": "transparent"}, {"offset": 0.785, "color": "transparent"}, {"offset": 0.785, "color": "#333"}, {"offset": 0.8, "color": "#333"},
               {"offset": 0.8, "color": "transparent"}, {"offset": 0.885, "color": "transparent"}, {"offset": 0.885, "color": "#333"}, {"offset": 0.9, "color": "#333"},
               {"offset": 0.9, "color": "transparent"}, {"offset": 0.985, "color": "transparent"}, {"offset": 0.985, "color": "#333"}, {"offset": 1, "color": "#333"}
             ]}},
             "encoding": {"x2": {"field": "x2"}, "y": {"field": "y", "type": "quantitative"}, "y2": {"field": "y2"}}},
            {"transform": [{"filter": "datum.k === 'key'"}],
             "mark": {"type": "text", "align": "left", "baseline": "middle", "fontSize": 20, "fill": "#000"},
             "encoding": {"y": {"field": "y", "type": "quantitative"}, "text": {"field": "t"}}},
            {"transform": [{"filter": "datum.k === 'sp'"}],
             "mark": {"type": "text", "align": "center", "baseline": "middle", "fontSize": 20, "fontStyle": "italic", "fill": "#000"},
             "encoding": {"y": {"field": "y", "type": "quantitative"}, "text": {"field": "t"}}},
            {"transform": [{"filter": "datum.k === 'cult'"}],
             "mark": {"type": "text", "align": "center", "baseline": "middle", "fontSize": 20, "fill": "#000"},
             "encoding": {"y": {"field": "y", "type": "quantitative"}, "text": {"field": "t"}}},
            {"transform": [{"filter": "datum.k === 'panel'"}],
             "mark": {"type": "text", "align": "center", "baseline": "middle", "fontSize": 38, "fill": "#000"},
             "encoding": {"y": {"field": "y", "type": "quantitative"}, "text": {"field": "t"}}}
          ]
        }
      ]
    }
  ],
  "config": {
    "font": "Liberation Serif",
    "view": {"stroke": null},
    "axis": {"domainColor": "#000", "domainWidth": 1.5, "tickColor": "#000", "tickWidth": 1.5, "labelColor": "#000", "labelFontSize": 20, "labelFont": "Liberation Serif", "titleColor": "#000", "titleFont": "Liberation Serif", "titleFontWeight": "normal", "grid": false}
  }
}
